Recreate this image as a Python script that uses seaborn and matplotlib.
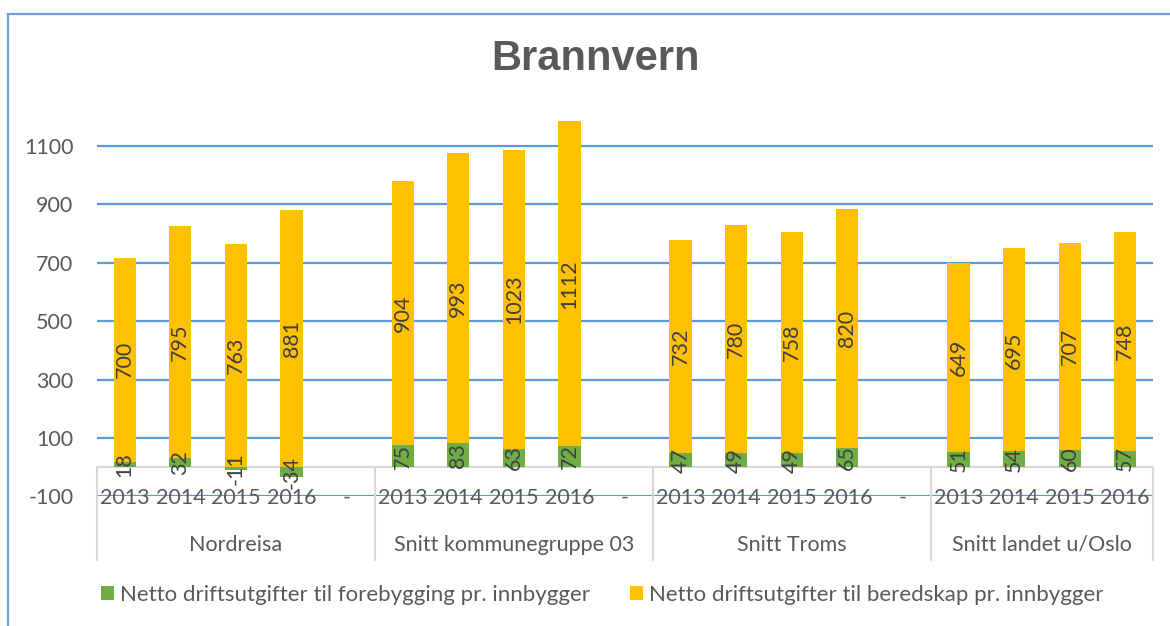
import matplotlib
matplotlib.use("Agg")
import matplotlib.pyplot as plt
from matplotlib.patches import Patch, Rectangle
import pandas as pd
import seaborn as sns

# --- data -------------------------------------------------------------
groups = ["Nordreisa", "Snitt kommunegruppe 03", "Snitt Troms", "Snitt landet u/Oslo"]
years = ["2013", "2014", "2015", "2016"]
forebygging = [18, 32, -11, -34,
               75, 83, 63, 72,
               47, 49, 49, 65,
               51, 54, 60, 57]
beredskap = [700, 795, 763, 881,
             904, 993, 1023, 1112,
             732, 780, 758, 820,
             649, 695, 707, 748]
series_names = ["Netto driftsutgifter til forebygging pr. innbygger",
                "Netto driftsutgifter til beredskap pr. innbygger"]
y_ticks = [-100, 100, 300, 500, 700, 900, 1100]

GREEN = "#70AD47"
YELLOW = "#FFC000"
GRID = "#5B9BD5"
TEXT = "#595959"
LABEL = "#404040"
SEP = "#D9D9D9"
FS = 15.5

# --- slot layout: each group has its years plus an empty "-" slot -------
slots, slot_text, slot_group = [], [], []
for gi, g in enumerate(groups):
    for y in years:
        slots.append(f"{g}|{y}")
        slot_text.append(y)
        slot_group.append(gi)
    if gi < len(groups) - 1:
        slots.append(f"{g}|-")
        slot_text.append("-")
        slot_group.append(gi)

rows = []
i = 0
for g in groups:
    for y in years:
        f, b = forebygging[i], beredskap[i]
        base = max(f, 0)
        rows.append({"slot": f"{g}|{y}", "forebygging": f, "beredskap": b,
                     "base": base, "top": base + b})
        i += 1
df = pd.DataFrame(rows)

# --- figure ------------------------------------------------------------
sns.set_style("white")
plt.rcParams["font.family"] = ["Lato", "DejaVu Sans"]

W, H = 1170, 626
fig = plt.figure(figsize=(W / 100, H / 100), dpi=100)

px_left, px_right = 97, 1153
px_bottom, px_top = 496.4, 102.2
ax = fig.add_axes([px_left / W, 1 - px_bottom / H,
                   (px_right - px_left) / W, (px_bottom - px_top) / H])

# yellow (beredskap) stacked on top of the positive part of green
sns.barplot(data=df, x="slot", y="top", order=slots, color=YELLOW,
            saturation=1, width=0.4, linewidth=0, ax=ax, zorder=3)
sns.barplot(data=df, x="slot", y="forebygging", order=slots, color=GREEN,
            saturation=1, width=0.4, linewidth=0, ax=ax, zorder=4)

ax.set_xlim(-0.5, len(slots) - 0.5)
ax.set_ylim(-100, 1250)
ax.set_xlabel("")
ax.set_ylabel("")
ax.set_xticks([])
ax.set_yticks(y_ticks)
ax.set_yticklabels([str(t) for t in y_ticks], color=TEXT, fontsize=FS)
ax.tick_params(axis="y", length=0, pad=17)
ax.yaxis.grid(True, color=GRID, linewidth=1.6, zorder=0)
ax.set_axisbelow(True)
for s in ax.spines.values():
    s.set_visible(False)

# zero line of the category axis
ax.axhline(0, color=SEP, linewidth=1.5, zorder=2)

# value labels, rotated, centred in each segment
pos = {s: k for k, s in enumerate(slots)}
for _, r in df.iterrows():
    x = pos[r["slot"]]
    ax.text(x, r["forebygging"] / 2, f"{r['forebygging']}", rotation=90,
            ha="center", va="center", color=LABEL, fontsize=FS, zorder=6)
    ax.text(x, r["base"] + r["beredskap"] / 2, f"{r['beredskap']}", rotation=90,
            ha="center", va="center", color=LABEL, fontsize=FS, zorder=6)

# multi-level category axis
for k, t in enumerate(slot_text):
    ax.text(k, -106, t, ha="center", va="center", color=TEXT,
            fontsize=FS, clip_on=False, zorder=1)

bounds = [-0.5]
for gi in range(len(groups)):
    last = max(k for k, g in enumerate(slot_group) if g == gi)
    bounds.append(last + 0.5)
for b in bounds:
    ax.plot([b, b], [0, -318], color=SEP, linewidth=1.5, clip_on=False, zorder=2)
for gi, g in enumerate(groups):
    ax.text((bounds[gi] + bounds[gi + 1]) / 2, -266, g, ha="center", va="center",
            color=TEXT, fontsize=FS, clip_on=False)

# title
fig.text(596 / W, 1 - 59 / H, "Brannvern", ha="center", va="center",
         fontsize=30, fontweight="bold", color=TEXT, family="Liberation Sans")

# legend
handles = [Patch(facecolor=GREEN, edgecolor="none", label=series_names[0]),
           Patch(facecolor=YELLOW, edgecolor="none", label=series_names[1])]
fig.legend(handles=handles, loc="center", bbox_to_anchor=(602 / W, 1 - 595 / H),
           ncol=2, frameon=False, fontsize=16, handlelength=0.6,
           handleheight=0.6, handletextpad=0.25, columnspacing=1.8,
           labelcolor=TEXT)

# chart border
fig.patches.append(Rectangle((8 / W, -0.1), 1.2, 1 - 14 / H + 0.1,
                             transform=fig.transFigure, fill=False,
                             edgecolor="#6A9FD8", linewidth=1.6))

fig.savefig("out.png", dpi=100)
